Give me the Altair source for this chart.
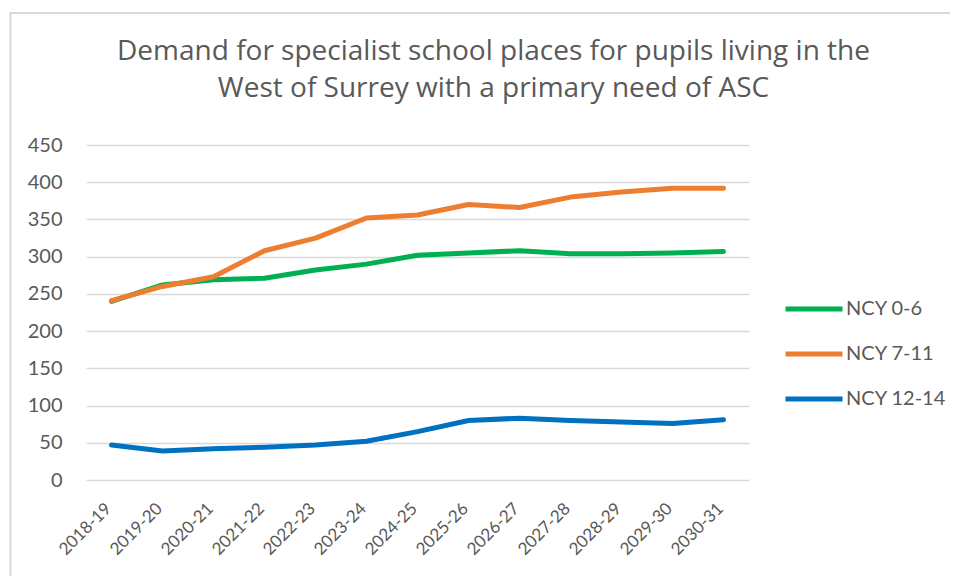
import altair as alt
import pandas as pd

years = ["2018-19", "2019-20", "2020-21", "2021-22", "2022-23", "2023-24", "2024-25",
         "2025-26", "2026-27", "2027-28", "2028-29", "2029-30", "2030-31"]
ncy_0_6 = [240, 262, 269, 271, 282, 290, 302, 305, 308, 304, 304, 305, 307]
ncy_7_11 = [241, 260, 273, 308, 325, 352, 356, 370, 366, 380, 387, 392, 392]
ncy_12_14 = [47, 39, 42, 44, 47, 52, 65, 80, 83, 80, 78, 76, 81]
series_names = ["NCY 0-6", "NCY 7-11", "NCY 12-14"]
series_colors = ["#00b050", "#ed7d31", "#0070c0"]

rows = []
for name, vals in zip(series_names, [ncy_0_6, ncy_7_11, ncy_12_14]):
    for y, v in zip(years, vals):
        rows.append({"Year": y, "Series": name, "Value": v})
df = pd.DataFrame(rows)

FONT = "Lato"
GREY = "#595959"

lines = alt.Chart(df).mark_line(strokeWidth=5, strokeCap="round", strokeJoin="round").encode(
    x=alt.X("Year:N", sort=years, scale=alt.Scale(type="point", padding=0.5),
            axis=alt.Axis(title=None, labelAngle=-45, labelFontSize=17, labelColor=GREY,
                          labelFont=FONT, domain=False, ticks=False, labelPadding=20,
                          labelAlign="right", labelBaseline="top", labelOffset=-9)),
    y=alt.Y("Value:Q", scale=alt.Scale(domain=[0, 450]),
            axis=alt.Axis(title=None, values=list(range(0, 451, 50)), labelFontSize=20,
                          labelColor=GREY, labelFont=FONT, domain=False, ticks=False,
                          labelPadding=24, gridColor="#d9d9d9", gridWidth=1.5)),
    color=alt.Color("Series:N", sort=series_names,
                    scale=alt.Scale(domain=series_names, range=series_colors),
                    legend=alt.Legend(title=None, orient="none", legendX=697, legendY=152,
                                      symbolType="stroke", symbolSize=3249, symbolStrokeWidth=5,
                                      labelFontSize=20, labelColor=GREY, labelFont=FONT,
                                      labelOffset=1, clipHeight=24, rowPadding=21)),
)

border = alt.Chart(pd.DataFrame({"a": [0]})).mark_rect(
    fill=None, stroke="#d9d9d9", strokeWidth=2, clip=False
).encode(x=alt.value(-75.5), x2=alt.value(900), y=alt.value(-132), y2=alt.value(470))

chart = alt.layer(border, lines).properties(
    width=663, height=335,
    title=alt.TitleParams(
        ["Demand for specialist school places for pupils living in the",
         "West of Surrey with a primary need of ASC"],
        fontSize=28, font="Open Sans", fontWeight="normal", color=GREY, anchor="middle",
        dx=76, offset=0, dy=91, lineHeight=37),
    autosize=alt.AutoSizeParams(type="none"),
    padding={"left": 78, "top": 137, "right": 201, "bottom": 96},
).configure_view(stroke=None)

chart.save("out.html", embed_options={"renderer": "svg", "actions": False})
